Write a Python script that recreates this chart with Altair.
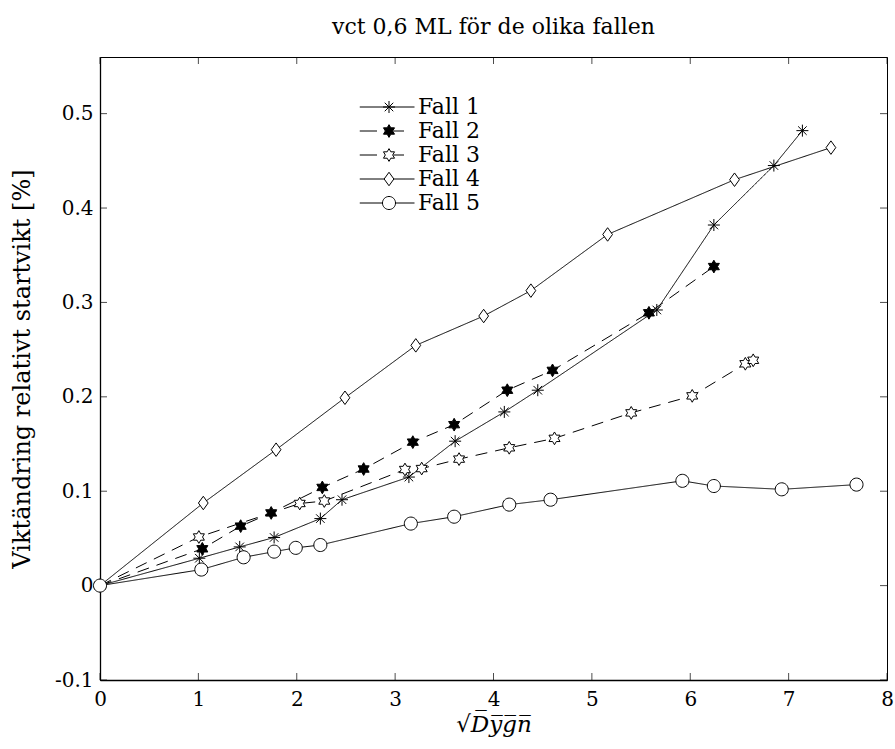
import altair as alt
import pandas as pd

# ---------------- data ----------------
series_names = ["Fall 1", "Fall 2", "Fall 3", "Fall 4", "Fall 5"]

fall1_x = [0, 1.01, 1.42, 1.77, 2.24, 2.46, 3.14, 3.61, 4.11, 4.45, 5.66, 6.24, 6.85, 7.14]
fall1_y = [0, 0.029, 0.041, 0.051, 0.071, 0.091, 0.115, 0.153, 0.184, 0.207, 0.292, 0.382, 0.445, 0.482]

fall2_x = [0, 1.04, 1.43, 1.74, 2.26, 2.68, 3.18, 3.60, 4.14, 4.60, 5.58, 6.24]
fall2_y = [0, 0.039, 0.063, 0.077, 0.104, 0.1235, 0.152, 0.1705, 0.207, 0.228, 0.289, 0.338]

fall3_x = [0, 1.005, 2.03, 2.28, 3.10, 3.27, 3.65, 4.16, 4.62, 5.40, 6.02, 6.56, 6.64]
fall3_y = [0, 0.0515, 0.087, 0.0896, 0.123, 0.124, 0.134, 0.146, 0.156, 0.183, 0.201, 0.235, 0.2387]

fall4_x = [0, 1.05, 1.79, 2.49, 3.21, 3.90, 4.38, 5.16, 6.45, 7.43]
fall4_y = [0, 0.0875, 0.144, 0.199, 0.2545, 0.2856, 0.3125, 0.372, 0.430, 0.464]

fall5_x = [0, 1.03, 1.46, 1.77, 1.99, 2.24, 3.16, 3.60, 4.16, 4.58, 5.92, 6.24, 6.93, 7.69]
fall5_y = [0, 0.017, 0.030, 0.036, 0.040, 0.043, 0.0657, 0.073, 0.0858, 0.091, 0.111, 0.1055, 0.102, 0.107]

x_ticks = [0, 1, 2, 3, 4, 5, 6, 7, 8]
y_ticks = [-0.1, 0, 0.1, 0.2, 0.3, 0.4, 0.5]

title_text = "vct 0,6 ML för de olika fallen"
x_title = "√D\u0305y\u0305g\u0305n\u0305"
y_title = "Viktändring relativt startvikt [%]"

# ---------------- build tables ----------------
all_x = [fall1_x, fall2_x, fall3_x, fall4_x, fall5_x]
all_y = [fall1_y, fall2_y, fall3_y, fall4_y, fall5_y]
rows = []
for name, xs, ys in zip(series_names, all_x, all_y):
    for i, (xv, yv) in enumerate(zip(xs, ys)):
        rows.append({"series": name, "x": xv, "y": yv, "order": i})
df = pd.DataFrame(rows)
leg_df = pd.DataFrame({"legend": series_names, "x": [0.0] * 5, "y": [0.0] * 5})
xt_df = pd.DataFrame({"x": [float(v) for v in x_ticks]})
yt_df = pd.DataFrame({"y": y_ticks})

# ---------------- styles ----------------
FONT = "DejaVu Serif"
W, H = 787, 623
TK = 7

ast = "M0,-0.8L0,0.8M-0.8,0L0.8,0M-0.57,-0.57L0.57,0.57M-0.57,0.57L0.57,-0.57"
hexa = ("M0,-0.85L0.245,-0.425L0.736,-0.425L0.49,0L0.736,0.425L0.245,0.425L0,0.85"
        "L-0.245,0.425L-0.736,0.425L-0.49,0L-0.736,-0.425L-0.245,-0.425Z")
diam = "M0,-0.9L0.65,0L0,0.9L-0.65,0Z"
circ = "M-0.87,0A0.87,0.87,0,1,0,0.87,0A0.87,0.87,0,1,0,-0.87,0Z"

marker_paths = [ast, hexa, hexa, diam, circ]
marker_fills = ["white", "black", "white", "white", "white"]
marker_strokes = ["black"] * 5
dash_styles = [[1, 0], [12, 8], [12, 8], [1, 0], [1, 0]]

legend_paths = [
    "M-3.9,0L3.4,0" + ast,
    "M-3.9,0L-1.6,0M0.6,0L2.0,0" + hexa,
    "M-3.9,0L-1.6,0M0.6,0L2.0,0" + hexa,
    "M-3.9,0L-0.65,0M0.65,0L3.4,0" + diam,
    "M-3.9,0L-0.87,0M0.87,0L3.4,0" + circ,
]

xscale = alt.Scale(domain=[0, 8], nice=False, zero=False)
yscale = alt.Scale(domain=[-0.1, 0.56], nice=False, zero=False)

ylab = ("datum.value == 0 ? '0' : (datum.value < 0 ? '-' + format(-datum.value, '.1f') "
        ": format(datum.value, '.1f'))")

x_main = alt.Axis(orient="bottom", values=x_ticks, format="d", labelFlush=False,
                  ticks=False, domain=True, domainWidth=1.6,
                  domainColor="black", grid=False, labelFont=FONT, labelFontSize=20,
                  labelColor="black", labelPadding=9, labelAngle=0,
                  title=x_title, titleFont=FONT, titleFontSize=23, titleFontStyle="italic",
                  titleFontWeight="normal", titleColor="black", titlePadding=4)
y_main = alt.Axis(orient="left", values=y_ticks, ticks=False, domain=True, domainWidth=1.3,
                  labelFlush=False, domainColor="black", grid=False,
                  labelFont=FONT, labelFontSize=20, labelColor="black", labelPadding=7,
                  labelExpr=ylab, title=y_title, titleFont=FONT, titleFontSize=24,
                  titleFontWeight="normal", titleColor="black", titlePadding=20)

lines = alt.Chart(df).mark_line(color="black", strokeWidth=1).encode(
    x=alt.X("x:Q", scale=xscale, axis=x_main),
    y=alt.Y("y:Q", scale=yscale, axis=y_main),
    detail="series:N",
    order="order:Q",
    strokeDash=alt.StrokeDash("series:N", scale=alt.Scale(domain=series_names, range=dash_styles),
                              legend=None),
)

points = alt.Chart(df).mark_point(filled=True, stroke="black", strokeWidth=1, opacity=1, size=225).encode(
    x=alt.X("x:Q", scale=xscale),
    y=alt.Y("y:Q", scale=yscale),
    shape=alt.Shape("series:N", scale=alt.Scale(domain=series_names, range=marker_paths), legend=None),
    fill=alt.Fill("series:N", scale=alt.Scale(domain=series_names, range=marker_fills), legend=None),
)

leg_props = dict(title=None, orient="none", legendX=278, legendY=39,
                 symbolSize=225, symbolOpacity=1, symbolStrokeWidth=1,
                 labelFont=FONT, labelFontSize=22,
                 labelColor="black", labelOffset=18, rowPadding=2, padding=0, symbolLimit=0)

legend_layer = alt.Chart(leg_df).mark_point(filled=True, strokeWidth=1, opacity=0, size=225).encode(
    x=alt.X("x:Q", scale=xscale),
    y=alt.Y("y:Q", scale=yscale),
    shape=alt.Shape("legend:N", scale=alt.Scale(domain=series_names, range=legend_paths),
                    legend=alt.Legend(**leg_props)),
    fill=alt.Fill("legend:N", scale=alt.Scale(domain=series_names, range=marker_fills),
                  legend=alt.Legend(**leg_props)),
    stroke=alt.Stroke("legend:N", scale=alt.Scale(domain=series_names, range=marker_strokes),
                      legend=alt.Legend(**leg_props)),
)

# inward tick marks on all four sides, placed by the shared scales
tick_bottom = alt.Chart(xt_df).mark_tick(color="black", thickness=1, size=TK, orient="vertical").encode(
    x=alt.X("x:Q", scale=xscale), y=alt.value(H - TK / 2))
tick_top = alt.Chart(xt_df).mark_tick(color="black", thickness=1, size=TK, orient="vertical").encode(
    x=alt.X("x:Q", scale=xscale), y=alt.value(TK / 2))
tick_left = alt.Chart(yt_df).mark_tick(color="black", thickness=1, size=TK, orient="horizontal").encode(
    y=alt.Y("y:Q", scale=yscale), x=alt.value(TK / 2))
tick_right = alt.Chart(yt_df).mark_tick(color="black", thickness=1, size=TK, orient="horizontal").encode(
    y=alt.Y("y:Q", scale=yscale), x=alt.value(W - TK / 2))

chart = alt.layer(lines, tick_bottom, tick_top, tick_left, tick_right, points, legend_layer).resolve_scale(
    shape="independent", fill="independent", stroke="independent"
).properties(
    width=W, height=H,
    autosize=alt.AutoSizeParams(type="none"),
    padding={"left": 100, "top": 57, "right": 8, "bottom": 69},
    title=alt.TitleParams(title_text, font=FONT, fontSize=22, fontWeight="normal",
                          color="black", anchor="middle", offset=18),
    background="white",
).configure_view(stroke="black", strokeWidth=1)

chart.save("out.html", embed_options={"renderer": "svg", "actions": False})
